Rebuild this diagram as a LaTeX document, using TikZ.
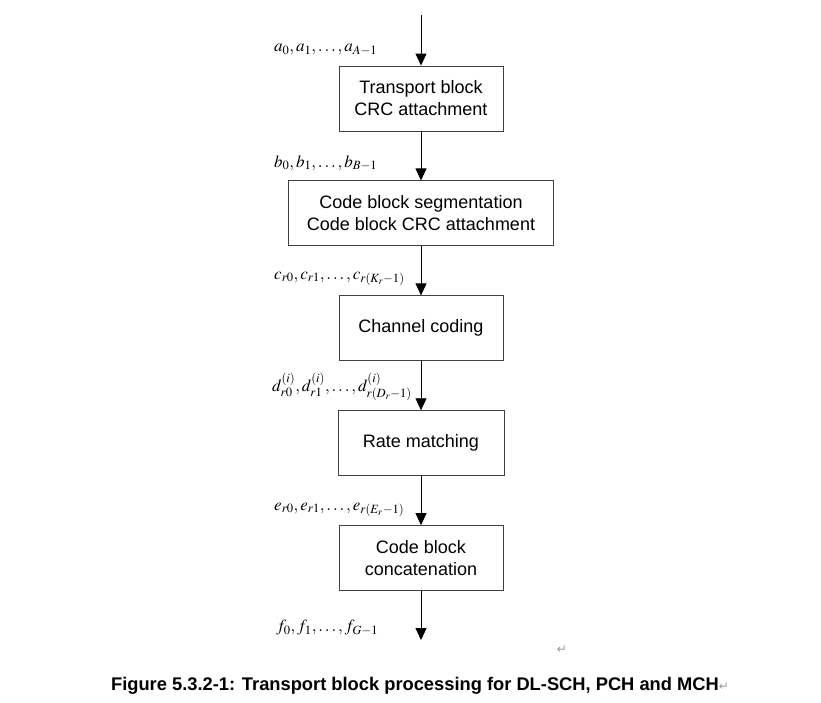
\documentclass[tikz,border=0pt]{standalone}
\usepackage{mathptmx}
\usepackage{fontspec}
\setmainfont{Liberation Sans}
\newfontfamily\markfont{DejaVu Sans}
\usetikzlibrary{positioning,arrows.meta}

\begin{document}
\begin{tikzpicture}[x=1pt,y=-1pt,
    node distance=49pt,
    blk/.style={draw=black!75,line width=0.9pt,minimum width=164pt,minimum height=65pt,
      align=center,font=\fontsize{18}{22}\selectfont},
    seq/.style={anchor=west,inner sep=0pt,font=\fontsize{17}{19}\selectfont},
    flow/.style={line width=0.9pt,-{Triangle[length=12pt,width=11pt]}}]
  \useasboundingbox (0,0) rectangle (821,702);

  \coordinate (in) at (421,15);
  \node[blk] (crc) at (421,98.5) {Transport block\\CRC attachment};
  \node[blk,minimum width=265pt,below=of crc] (seg) {Code block segmentation\\Code block CRC attachment};
  \node[blk,below=of seg] (cc) {Channel coding};
  \node[blk,minimum width=166pt,below=of cc] (rm) {Rate matching};
  \node[blk,below=of rm] (cat) {Code block\\concatenation};
  \coordinate (out) at (421,640);

  \draw[flow] (in) -- (crc);
  \draw[flow] (crc) -- (seg);
  \draw[flow] (seg) -- (cc);
  \draw[flow] (cc) -- (rm);
  \draw[flow] (rm) -- (cat);
  \draw[flow] (cat) -- (out);

  % bit sequences
  \node[seq] (a) at (274,50) {$a_0, a_1,\ldots, a_{A-1}$};
  \node[seq] (b) at (274,163) {$b_0, b_1,\ldots, b_{B-1}$};
  \node[seq] (c) at (274,279) {$c_{r0}, c_{r1},\ldots, c_{r(K_r-1)}$};
  \node[seq] (d) at (272,387) {$d^{(i)}_{r0}, d^{(i)}_{r1},\ldots, d^{(i)}_{r(D_r-1)}$};
  \node[seq] (e) at (274,510) {$e_{r0}, e_{r1},\ldots, e_{r(E_r-1)}$};
  \node[seq] (f) at (276,628) {$f_0, f_1,\ldots, f_{G-1}$};

  \node[text=black!40,font=\markfont\fontsize{12}{12}\selectfont] (mark) at (562,650) {↵};
  \node[font=\bfseries\fontsize{18.3}{22}\selectfont] (cap) at (420,686)
    {Figure 5.3.2-1: Transport block processing for DL-SCH, PCH and MCH\textcolor{black!40}{\markfont\mdseries\fontsize{12}{12}\selectfont↵}};
\end{tikzpicture}
\end{document}
